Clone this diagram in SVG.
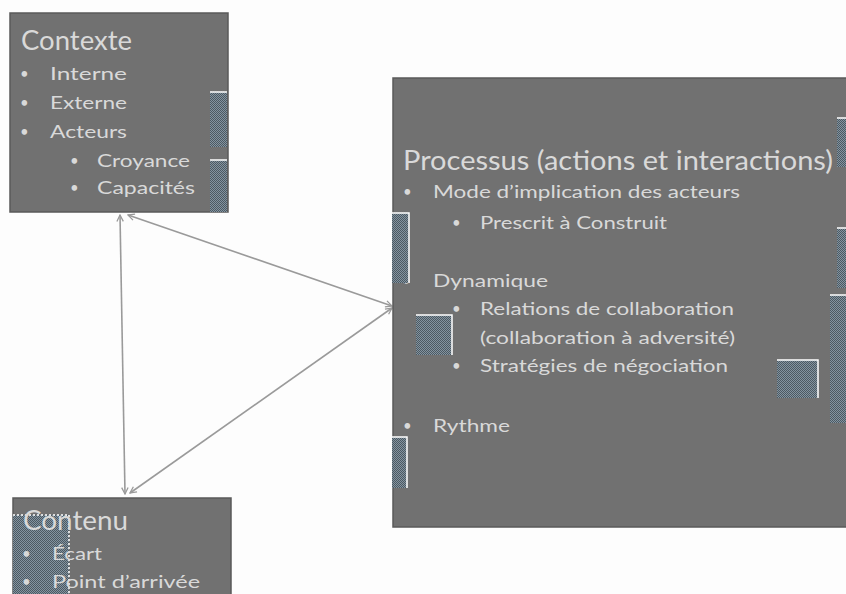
<svg xmlns="http://www.w3.org/2000/svg" width="846" height="594" viewBox="0 0 846 594">
<defs>
<pattern id="dither" width="2" height="2" patternUnits="userSpaceOnUse">
<rect width="2" height="2" fill="#8494a0"/>
<rect width="1" height="1" fill="#4c5962"/>
<rect x="1" y="1" width="1" height="1" fill="#4c5962"/>
</pattern>
<marker id="arr" viewBox="0 0 10 10" refX="9" refY="5" markerWidth="8" markerHeight="8" orient="auto-start-reverse" markerUnits="userSpaceOnUse">
<path d="M1,1 L9,5 L1,9" fill="none" stroke="#9a9a9a" stroke-width="1.6"/>
</marker>
</defs>
<style>
.box{fill:#717171;stroke:#5a5a5a;stroke-width:1.5}
.t{font-family:Lato,"Liberation Sans",sans-serif;fill:#d9d9d9}
.h{font-size:26px}
.b{font-size:18px}
.bu{font-size:15px}
.conn{stroke:#9a9a9a;stroke-width:1.6;fill:none}
.patch{fill:url(#dither)}
.edge{stroke:#ffffff;stroke-width:1.5;fill:none}
</style>
<rect width="846" height="594" fill="#fdfdfd"/>

<g id="connectors">
<line class="conn" x1="120" y1="215" x2="125" y2="494" marker-start="url(#arr)" marker-end="url(#arr)"/>
<line class="conn" x1="128" y1="215" x2="392" y2="306" marker-start="url(#arr)" marker-end="url(#arr)"/>
<line class="conn" x1="130" y1="493" x2="392" y2="308" marker-start="url(#arr)" marker-end="url(#arr)"/>
</g>

<g id="contexte">
<rect class="box" x="10" y="13" width="218" height="199"/>
<text class="t h" x="21" y="50" textLength="111" lengthAdjust="spacingAndGlyphs">Contexte</text>
<g class="t bu">
<text x="20" y="79">•</text><text x="20" y="108">•</text><text x="20" y="137">•</text>
<text x="70" y="166">•</text><text x="70" y="193">•</text>
</g>
<g class="t b">
<text x="50" y="80" textLength="77" lengthAdjust="spacingAndGlyphs">Interne</text>
<text x="50" y="109" textLength="77" lengthAdjust="spacingAndGlyphs">Externe</text>
<text x="50" y="138" textLength="77" lengthAdjust="spacingAndGlyphs">Acteurs</text>
<text x="97" y="167" textLength="93" lengthAdjust="spacingAndGlyphs">Croyance</text>
<text x="97" y="194" textLength="98" lengthAdjust="spacingAndGlyphs">Capacités</text>
</g>
<rect class="patch" x="210" y="92" width="17" height="55"/>
<polyline class="edge" points="210,92 227,92"/>
<rect class="patch" x="210" y="160" width="17" height="52"/>
<polyline class="edge" points="210,160 227,160"/>
</g>

<g id="processus">
<rect class="box" x="393" y="78" width="460" height="449"/>
<text class="t h" x="403" y="170" textLength="430" lengthAdjust="spacingAndGlyphs">Processus (actions et interactions)</text>
<g class="t bu">
<text x="403" y="197">•</text><text x="452" y="228">•</text>
<text x="402" y="286">•</text><text x="452" y="314">•</text>
<text x="452" y="371">•</text><text x="403" y="431">•</text>
</g>
<g class="t b">
<text x="433" y="198" textLength="307" lengthAdjust="spacingAndGlyphs">Mode d’implication des acteurs</text>
<text x="480" y="229" textLength="187" lengthAdjust="spacingAndGlyphs">Prescrit à Construit</text>
<text x="433" y="287" textLength="115" lengthAdjust="spacingAndGlyphs">Dynamique</text>
<text x="480" y="315" textLength="254" lengthAdjust="spacingAndGlyphs">Relations de collaboration</text>
<text x="480" y="344" textLength="255" lengthAdjust="spacingAndGlyphs">(collaboration à adversité)</text>
<text x="480" y="372" textLength="248" lengthAdjust="spacingAndGlyphs">Stratégies de négociation</text>
<text x="433" y="432" textLength="77" lengthAdjust="spacingAndGlyphs">Rythme</text>
</g>
<rect class="patch" x="837" y="118" width="9" height="49"/>
<polyline class="edge" points="837,118 846,118"/>
<rect class="patch" x="837" y="228" width="9" height="60"/>
<polyline class="edge" points="837,228 846,228"/>
<rect class="patch" x="830" y="295" width="16" height="128"/>
<polyline class="edge" points="830,295 846,295"/>
<rect class="patch" x="777" y="360" width="41" height="38"/>
<polyline class="edge" points="777,360 818,360 818,398"/>
<rect class="patch" x="392" y="213" width="17" height="70"/>
<polyline class="edge" points="392,213 409,213 409,283"/>
<rect class="patch" x="416" y="315" width="36" height="40"/>
<polyline class="edge" points="416,315 452,315 452,355"/>
<rect class="patch" x="392" y="437" width="15" height="51"/>
<polyline class="edge" points="392,437 407,437 407,488"/>
</g>

<g id="contenu">
<rect class="box" x="13" y="498" width="218" height="100"/>
<rect class="patch" x="13" y="515" width="56" height="79"/>
<polyline class="edge" points="13,515 69,515 69,594" stroke-dasharray="2,2"/>
<text class="t h" x="23" y="530" textLength="105" lengthAdjust="spacingAndGlyphs">Contenu</text>
<g class="t bu">
<text x="22" y="559">•</text><text x="22" y="587">•</text>
</g>
<g class="t b">
<text x="52" y="560" textLength="50" lengthAdjust="spacingAndGlyphs">Écart</text>
<text x="52" y="588" textLength="148" lengthAdjust="spacingAndGlyphs">Point d’arrivée</text>
</g>
</g>
</svg>
